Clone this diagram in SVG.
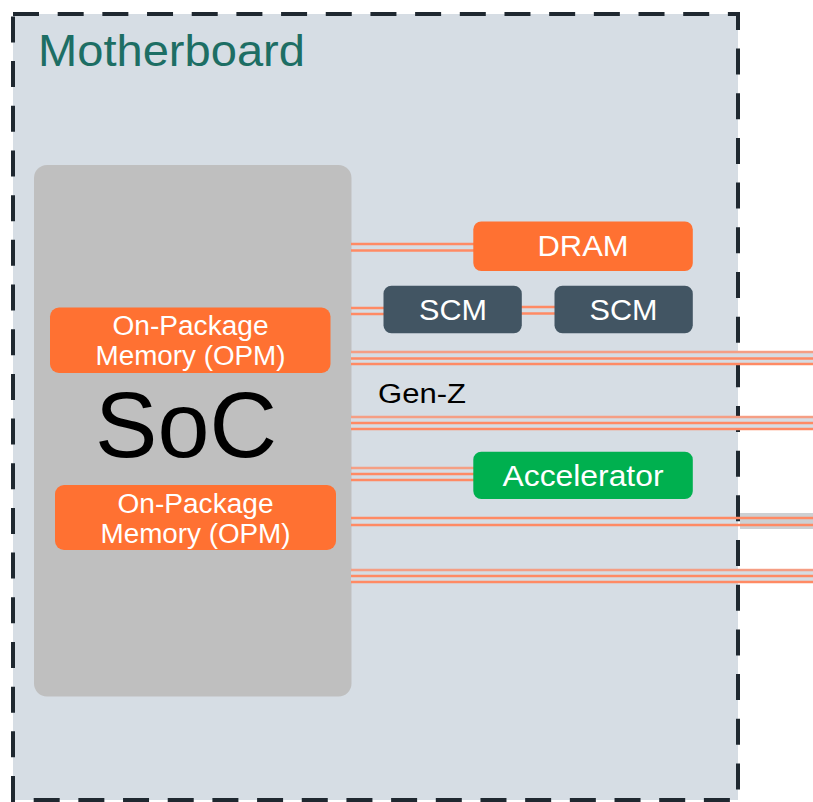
<svg xmlns="http://www.w3.org/2000/svg" width="813" height="802" viewBox="0 0 813 802">
  <style>
    text { font-family: "Liberation Sans", Arial, sans-serif; }
    .lbl { fill: #ffffff; text-anchor: middle; }
    .wire { stroke: #ff8a64; stroke-width: 2.4; fill: none; }
    .band { fill: #d6dce3; }
    .orange { fill: #ff7132; }
    .slate { fill: #425563; }
  </style>
  <rect width="813" height="802" fill="#ffffff"/>

  <!-- Motherboard outline -->
  <g id="motherboard">
    <rect x="13" y="14" width="725" height="786" fill="#d6dde4" stroke="#1f2830" stroke-width="4" stroke-dasharray="26 18.68"/>
    <text x="38" y="66" font-size="44" fill="#1d6e64" textLength="267" lengthAdjust="spacingAndGlyphs">Motherboard</text>
  </g>

  <!-- SoC package -->
  <g id="soc">
    <rect x="34" y="165" width="317.5" height="531.5" rx="13" fill="#bfbfbf"/>
    <text x="186" y="457" font-size="92" fill="#000000" text-anchor="middle" textLength="182" lengthAdjust="spacingAndGlyphs">SoC</text>
  </g>

  <g id="opm1">
    <rect x="50" y="307.5" width="280.5" height="65.5" rx="9" class="orange"/>
    <text x="190.5" y="335" font-size="27" class="lbl" textLength="156" lengthAdjust="spacingAndGlyphs">On-Package</text>
    <text x="190.5" y="365" font-size="27" class="lbl" textLength="190" lengthAdjust="spacingAndGlyphs">Memory (OPM)</text>
  </g>

  <g id="opm2">
    <rect x="55" y="485" width="281" height="65" rx="9" class="orange"/>
    <text x="195.5" y="513" font-size="27" class="lbl" textLength="156" lengthAdjust="spacingAndGlyphs">On-Package</text>
    <text x="195.5" y="543" font-size="27" class="lbl" textLength="190" lengthAdjust="spacingAndGlyphs">Memory (OPM)</text>
  </g>

  <!-- Connectors -->
  <g id="connectors">
    <!-- DRAM link -->
    <line class="wire" x1="351" y1="244" x2="474" y2="244"/>
    <line class="wire" x1="351" y1="250.5" x2="474" y2="250.5"/>
    <!-- SoC to SCM -->
    <line class="wire" x1="351" y1="308" x2="384" y2="308"/>
    <line class="wire" x1="351" y1="314" x2="384" y2="314"/>
    <!-- SCM to SCM -->
    <line class="wire" x1="521" y1="307" x2="555" y2="307"/>
    <line class="wire" x1="521" y1="313.5" x2="555" y2="313.5"/>
    <!-- Gen-Z bus, upper -->
    <rect class="band" x="351" y="351" width="462" height="14"/>
    <line class="wire" x1="351" y1="352" x2="813" y2="352" stroke-opacity="0.75"/>
    <line class="wire" x1="351" y1="358.5" x2="813" y2="358.5"/>
    <line class="wire" x1="351" y1="364" x2="813" y2="364"/>
    <!-- Gen-Z bus, lower -->
    <rect class="band" x="351" y="416" width="462" height="14"/>
    <line class="wire" x1="351" y1="417" x2="813" y2="417" stroke-opacity="0.75"/>
    <line class="wire" x1="351" y1="423" x2="813" y2="423"/>
    <line class="wire" x1="351" y1="429" x2="813" y2="429"/>
    <!-- Accelerator link -->
    <line class="wire" x1="351" y1="468" x2="474" y2="468" stroke-opacity="0.75"/>
    <line class="wire" x1="351" y1="474" x2="474" y2="474"/>
    <line class="wire" x1="351" y1="480" x2="474" y2="480"/>
    <!-- Lower buses -->
    <rect x="740" y="513" width="73" height="16" fill="#cdd0d3"/>
    <line class="wire" x1="351" y1="518" x2="813" y2="518"/>
    <line class="wire" x1="351" y1="525" x2="813" y2="525"/>
    <rect class="band" x="351" y="569" width="462" height="14"/>
    <line class="wire" x1="351" y1="570" x2="813" y2="570" stroke-opacity="0.75"/>
    <line class="wire" x1="351" y1="576" x2="813" y2="576"/>
    <line class="wire" x1="351" y1="582" x2="813" y2="582"/>
  </g>

  <g id="dram">
    <rect x="473.3" y="221.5" width="219.5" height="49.5" rx="8" class="orange"/>
    <text x="583" y="256" font-size="30" class="lbl" textLength="91" lengthAdjust="spacingAndGlyphs">DRAM</text>
  </g>

  <g id="scm1">
    <rect x="383.5" y="285.7" width="138.3" height="47.6" rx="8" class="slate"/>
    <text x="453" y="320" font-size="30" class="lbl" textLength="68" lengthAdjust="spacingAndGlyphs">SCM</text>
  </g>

  <g id="scm2">
    <rect x="554.5" y="285.7" width="138.3" height="47.6" rx="8" class="slate"/>
    <text x="623.6" y="320" font-size="30" class="lbl" textLength="68" lengthAdjust="spacingAndGlyphs">SCM</text>
  </g>

  <g id="accelerator">
    <rect x="473.3" y="451.7" width="219.5" height="47.3" rx="8" fill="#00b04f"/>
    <text x="583" y="486" font-size="29" class="lbl" textLength="161" lengthAdjust="spacingAndGlyphs">Accelerator</text>
  </g>

  <g id="genz-label">
    <text x="378" y="403" font-size="27" fill="#000000" textLength="88" lengthAdjust="spacingAndGlyphs">Gen-Z</text>
  </g>
</svg>
